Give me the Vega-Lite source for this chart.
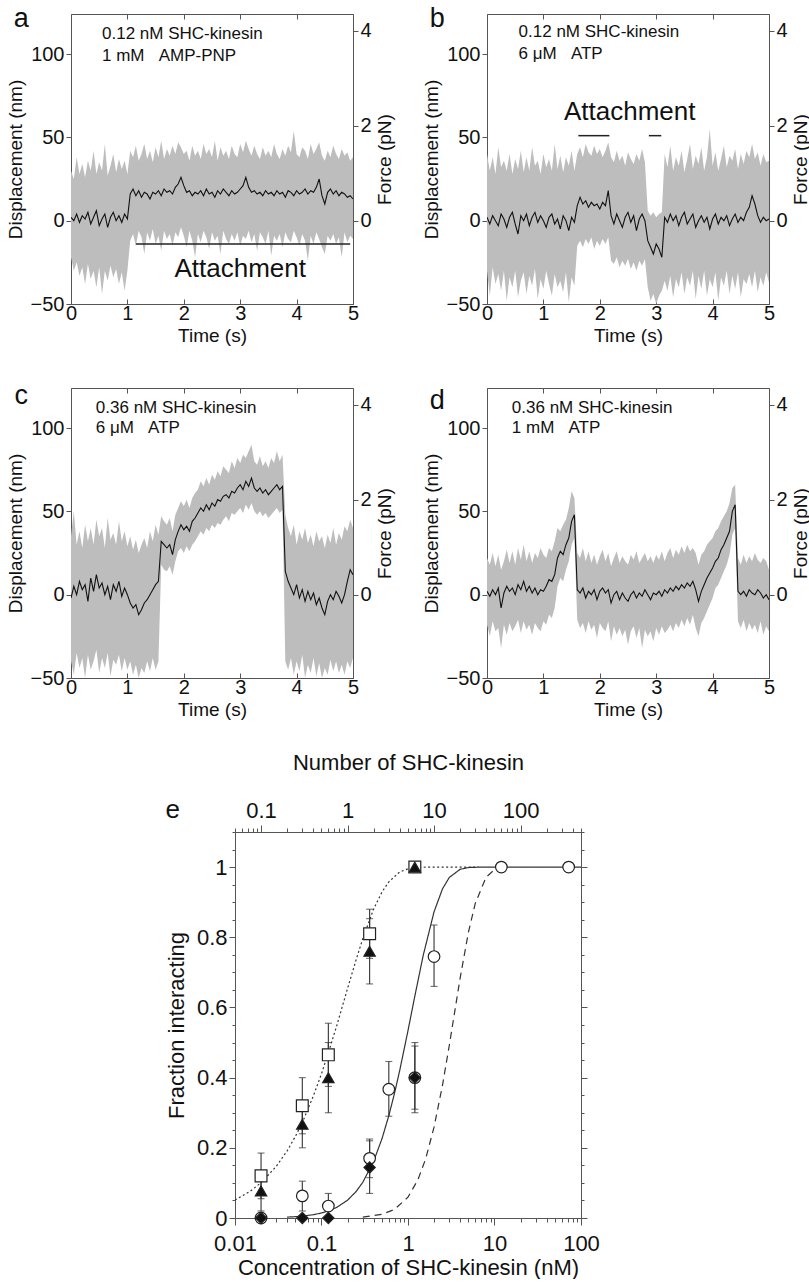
{
"$schema": "https://vega.github.io/schema/vega-lite/v6.json",
"padding": {"left": 5, "top": 4, "right": 0, "bottom": 0},
"background": "white",
"config": {
  "font": "Liberation Sans",
  "view": {"stroke": "#555", "strokeWidth": 1},
  "axis": {"grid": false, "domainColor": "#555", "tickColor": "#555", "labelColor": "#111", "titleColor": "#111", "titleFontWeight": "normal", "labelFlush": false, "labelOverlap": false},
  "text": {"color": "#111"}
},
"datasets": {
"a": [
{"t":0,"d":2,"lo":-22,"hi":30},{"t":0.05,"d":0,"lo":-30,"hi":25},{"t":0.1,"d":4,"lo":-25,"hi":38},{"t":0.15,"d":-1,"lo":-33,"hi":28},{"t":0.2,"d":3,"lo":-28,"hi":34},{"t":0.25,"d":1,"lo":-38,"hi":26},{"t":0.3,"d":5,"lo":-26,"hi":36},{"t":0.35,"d":-2,"lo":-35,"hi":30},{"t":0.4,"d":2,"lo":-30,"hi":42},{"t":0.45,"d":6,"lo":-40,"hi":28},
{"t":0.5,"d":-3,"lo":-28,"hi":35},{"t":0.55,"d":1,"lo":-44,"hi":30},{"t":0.6,"d":4,"lo":-30,"hi":46},{"t":0.65,"d":-4,"lo":-36,"hi":27},{"t":0.7,"d":2,"lo":-27,"hi":33},{"t":0.75,"d":5,"lo":-34,"hi":40},{"t":0.8,"d":0,"lo":-29,"hi":29},{"t":0.85,"d":3,"lo":-38,"hi":37},{"t":0.9,"d":-1,"lo":-31,"hi":31},{"t":0.95,"d":4,"lo":-42,"hi":36},
{"t":1,"d":1,"lo":-30,"hi":28},{"t":1.05,"d":16,"lo":-12,"hi":42},{"t":1.1,"d":19,"lo":-8,"hi":38},{"t":1.15,"d":15,"lo":-15,"hi":45},{"t":1.2,"d":18,"lo":-6,"hi":36},{"t":1.25,"d":14,"lo":-10,"hi":40},{"t":1.3,"d":17,"lo":-20,"hi":46},{"t":1.35,"d":16,"lo":-7,"hi":37},{"t":1.4,"d":13,"lo":-12,"hi":42},{"t":1.45,"d":17,"lo":-5,"hi":35},
{"t":1.5,"d":16,"lo":-14,"hi":44},{"t":1.55,"d":18,"lo":-9,"hi":38},{"t":1.6,"d":15,"lo":-18,"hi":48},{"t":1.65,"d":19,"lo":-6,"hi":37},{"t":1.7,"d":17,"lo":-11,"hi":43},{"t":1.75,"d":18,"lo":-8,"hi":39},{"t":1.8,"d":16,"lo":-15,"hi":45},{"t":1.85,"d":20,"lo":-7,"hi":40},{"t":1.9,"d":22,"lo":-10,"hi":47},{"t":1.95,"d":26,"lo":-4,"hi":44},
{"t":2,"d":21,"lo":-9,"hi":40},{"t":2.05,"d":17,"lo":-16,"hi":42},{"t":2.1,"d":18,"lo":-6,"hi":36},{"t":2.15,"d":15,"lo":-12,"hi":45},{"t":2.2,"d":17,"lo":-22,"hi":39},{"t":2.25,"d":16,"lo":-8,"hi":42},{"t":2.3,"d":18,"lo":-13,"hi":37},{"t":2.35,"d":15,"lo":-6,"hi":46},{"t":2.4,"d":19,"lo":-10,"hi":40},{"t":2.45,"d":16,"lo":-17,"hi":43},
{"t":2.5,"d":17,"lo":-7,"hi":38},{"t":2.55,"d":14,"lo":-12,"hi":48},{"t":2.6,"d":18,"lo":-9,"hi":36},{"t":2.65,"d":16,"lo":-20,"hi":44},{"t":2.7,"d":19,"lo":-6,"hi":39},{"t":2.75,"d":17,"lo":-11,"hi":42},{"t":2.8,"d":15,"lo":-14,"hi":37},{"t":2.85,"d":18,"lo":-8,"hi":45},{"t":2.9,"d":16,"lo":-12,"hi":40},{"t":2.95,"d":17,"lo":-7,"hi":38},
{"t":3,"d":19,"lo":-15,"hi":46},{"t":3.05,"d":21,"lo":-9,"hi":41},{"t":3.1,"d":26,"lo":-11,"hi":48},{"t":3.15,"d":20,"lo":-6,"hi":43},{"t":3.2,"d":17,"lo":-13,"hi":39},{"t":3.25,"d":18,"lo":-8,"hi":45},{"t":3.3,"d":16,"lo":-18,"hi":40},{"t":3.35,"d":17,"lo":-7,"hi":37},{"t":3.4,"d":15,"lo":-10,"hi":44},{"t":3.45,"d":18,"lo":-14,"hi":39},
{"t":3.5,"d":16,"lo":-6,"hi":42},{"t":3.55,"d":17,"lo":-21,"hi":38},{"t":3.6,"d":15,"lo":-9,"hi":46},{"t":3.65,"d":18,"lo":-12,"hi":40},{"t":3.7,"d":16,"lo":-8,"hi":37},{"t":3.75,"d":17,"lo":-16,"hi":43},{"t":3.8,"d":14,"lo":-7,"hi":39},{"t":3.85,"d":18,"lo":-11,"hi":45},{"t":3.9,"d":17,"lo":-13,"hi":41},{"t":3.95,"d":15,"lo":-6,"hi":54},
{"t":4,"d":18,"lo":-10,"hi":40},{"t":4.05,"d":16,"lo":-15,"hi":38},{"t":4.1,"d":17,"lo":-8,"hi":44},{"t":4.15,"d":19,"lo":-12,"hi":42},{"t":4.2,"d":16,"lo":-24,"hi":37},{"t":4.25,"d":18,"lo":-9,"hi":46},{"t":4.3,"d":17,"lo":-14,"hi":40},{"t":4.35,"d":20,"lo":-7,"hi":43},{"t":4.4,"d":25,"lo":-11,"hi":47},{"t":4.45,"d":15,"lo":-16,"hi":39},
{"t":4.5,"d":10,"lo":-20,"hi":36},{"t":4.55,"d":17,"lo":-9,"hi":42},{"t":4.6,"d":19,"lo":-12,"hi":38},{"t":4.65,"d":16,"lo":-8,"hi":45},{"t":4.7,"d":18,"lo":-14,"hi":40},{"t":4.75,"d":15,"lo":-10,"hi":37},{"t":4.8,"d":17,"lo":-22,"hi":43},{"t":4.85,"d":16,"lo":-7,"hi":39},{"t":4.9,"d":14,"lo":-13,"hi":41},{"t":4.95,"d":15,"lo":-9,"hi":36},
{"t":5,"d":13,"lo":-11,"hi":38}
],
"b": [
{"t":0,"d":2,"lo":-30,"hi":40},{"t":0.05,"d":-2,"lo":-45,"hi":30},{"t":0.1,"d":3,"lo":-28,"hi":38},{"t":0.15,"d":0,"lo":-38,"hi":28},{"t":0.2,"d":-3,"lo":-32,"hi":44},{"t":0.25,"d":4,"lo":-42,"hi":32},{"t":0.3,"d":1,"lo":-30,"hi":36},{"t":0.35,"d":-4,"lo":-48,"hi":30},{"t":0.4,"d":2,"lo":-34,"hi":40},{"t":0.45,"d":5,"lo":-40,"hi":28},
{"t":0.5,"d":-2,"lo":-30,"hi":37},{"t":0.55,"d":-8,"lo":-46,"hi":31},{"t":0.6,"d":3,"lo":-36,"hi":42},{"t":0.65,"d":0,"lo":-31,"hi":29},{"t":0.7,"d":4,"lo":-44,"hi":38},{"t":0.75,"d":-3,"lo":-33,"hi":30},{"t":0.8,"d":2,"lo":-39,"hi":44},{"t":0.85,"d":5,"lo":-29,"hi":33},{"t":0.9,"d":-1,"lo":-47,"hi":36},{"t":0.95,"d":3,"lo":-35,"hi":28},
{"t":1,"d":0,"lo":-41,"hi":40},{"t":1.05,"d":-4,"lo":-30,"hi":32},{"t":1.1,"d":2,"lo":-38,"hi":37},{"t":1.15,"d":4,"lo":-45,"hi":30},{"t":1.2,"d":-2,"lo":-32,"hi":46},{"t":1.25,"d":1,"lo":-40,"hi":31},{"t":1.3,"d":-5,"lo":-36,"hi":39},{"t":1.35,"d":3,"lo":-43,"hi":29},{"t":1.4,"d":0,"lo":-31,"hi":38},{"t":1.45,"d":-6,"lo":-49,"hi":33},
{"t":1.5,"d":2,"lo":-34,"hi":42},{"t":1.55,"d":-1,"lo":-39,"hi":30},{"t":1.6,"d":9,"lo":-15,"hi":40},{"t":1.65,"d":14,"lo":-12,"hi":44},{"t":1.7,"d":10,"lo":-16,"hi":38},{"t":1.75,"d":12,"lo":-11,"hi":46},{"t":1.8,"d":8,"lo":-14,"hi":41},{"t":1.85,"d":11,"lo":-10,"hi":39},{"t":1.9,"d":9,"lo":-17,"hi":45},{"t":1.95,"d":10,"lo":-12,"hi":40},
{"t":2,"d":7,"lo":-15,"hi":43},{"t":2.05,"d":11,"lo":-11,"hi":38},{"t":2.1,"d":9,"lo":-14,"hi":42},{"t":2.15,"d":18,"lo":-10,"hi":47},{"t":2.2,"d":3,"lo":-24,"hi":38},{"t":2.25,"d":-2,"lo":-26,"hi":35},{"t":2.3,"d":4,"lo":-22,"hi":42},{"t":2.35,"d":0,"lo":-28,"hi":36},{"t":2.4,"d":-4,"lo":-24,"hi":39},{"t":2.45,"d":2,"lo":-27,"hi":33},
{"t":2.5,"d":5,"lo":-23,"hi":41},{"t":2.55,"d":-1,"lo":-29,"hi":37},{"t":2.6,"d":3,"lo":-25,"hi":34},{"t":2.65,"d":-6,"lo":-30,"hi":40},{"t":2.7,"d":1,"lo":-24,"hi":36},{"t":2.75,"d":4,"lo":-27,"hi":43},{"t":2.8,"d":0,"lo":-23,"hi":35},{"t":2.85,"d":-12,"lo":-40,"hi":6},{"t":2.9,"d":-16,"lo":-48,"hi":3},{"t":2.95,"d":-20,"lo":-44,"hi":5},
{"t":3,"d":-14,"lo":-50,"hi":2},{"t":3.05,"d":-17,"lo":-45,"hi":4},{"t":3.1,"d":-22,"lo":-42,"hi":5},{"t":3.15,"d":2,"lo":-36,"hi":40},{"t":3.2,"d":-1,"lo":-42,"hi":32},{"t":3.25,"d":4,"lo":-33,"hi":45},{"t":3.3,"d":0,"lo":-46,"hi":30},{"t":3.35,"d":3,"lo":-35,"hi":38},{"t":3.4,"d":-3,"lo":-40,"hi":33},{"t":3.45,"d":2,"lo":-31,"hi":42},
{"t":3.5,"d":5,"lo":-44,"hi":29},{"t":3.55,"d":-2,"lo":-34,"hi":37},{"t":3.6,"d":1,"lo":-39,"hi":46},{"t":3.65,"d":4,"lo":-30,"hi":31},{"t":3.7,"d":-4,"lo":-47,"hi":39},{"t":3.75,"d":0,"lo":-33,"hi":34},{"t":3.8,"d":3,"lo":-41,"hi":44},{"t":3.85,"d":-1,"lo":-30,"hi":30},{"t":3.9,"d":2,"lo":-45,"hi":38},{"t":3.95,"d":-5,"lo":-35,"hi":55},
{"t":4,"d":1,"lo":-40,"hi":33},{"t":4.05,"d":4,"lo":-31,"hi":41},{"t":4.1,"d":-2,"lo":-48,"hi":30},{"t":4.15,"d":2,"lo":-34,"hi":37},{"t":4.2,"d":0,"lo":-39,"hi":45},{"t":4.25,"d":3,"lo":-30,"hi":32},{"t":4.3,"d":-3,"lo":-44,"hi":39},{"t":4.35,"d":1,"lo":-33,"hi":36},{"t":4.4,"d":4,"lo":-41,"hi":43},{"t":4.45,"d":-1,"lo":-31,"hi":31},
{"t":4.5,"d":2,"lo":-46,"hi":40},{"t":4.55,"d":0,"lo":-35,"hi":34},{"t":4.6,"d":5,"lo":-38,"hi":42},{"t":4.65,"d":8,"lo":-32,"hi":38},{"t":4.7,"d":15,"lo":-40,"hi":46},{"t":4.75,"d":10,"lo":-30,"hi":37},{"t":4.8,"d":3,"lo":-43,"hi":41},{"t":4.85,"d":-1,"lo":-34,"hi":33},{"t":4.9,"d":2,"lo":-39,"hi":40},{"t":4.95,"d":0,"lo":-31,"hi":35},
{"t":5,"d":1,"lo":-37,"hi":36}
],
"c": [
{"t":0,"d":-2,"lo":-40,"hi":35},{"t":0.05,"d":5,"lo":-48,"hi":50},{"t":0.1,"d":0,"lo":-35,"hi":30},{"t":0.15,"d":8,"lo":-44,"hi":38},{"t":0.2,"d":3,"lo":-38,"hi":28},{"t":0.25,"d":6,"lo":-50,"hi":42},{"t":0.3,"d":-4,"lo":-36,"hi":32},{"t":0.35,"d":10,"lo":-45,"hi":40},{"t":0.4,"d":2,"lo":-40,"hi":30},{"t":0.45,"d":12,"lo":-33,"hi":45},
{"t":0.5,"d":4,"lo":-47,"hi":35},{"t":0.55,"d":7,"lo":-38,"hi":40},{"t":0.6,"d":0,"lo":-44,"hi":28},{"t":0.65,"d":5,"lo":-35,"hi":46},{"t":0.7,"d":-3,"lo":-49,"hi":33},{"t":0.75,"d":6,"lo":-39,"hi":37},{"t":0.8,"d":2,"lo":-42,"hi":30},{"t":0.85,"d":8,"lo":-36,"hi":44},{"t":0.9,"d":-1,"lo":-46,"hi":32},{"t":0.95,"d":4,"lo":-38,"hi":38},
{"t":1,"d":0,"lo":-45,"hi":29},{"t":1.05,"d":-5,"lo":-40,"hi":35},{"t":1.1,"d":-8,"lo":-48,"hi":27},{"t":1.15,"d":-6,"lo":-42,"hi":33},{"t":1.2,"d":-12,"lo":-50,"hi":25},{"t":1.25,"d":-9,"lo":-44,"hi":30},{"t":1.3,"d":-5,"lo":-47,"hi":34},{"t":1.35,"d":-3,"lo":-40,"hi":28},{"t":1.4,"d":0,"lo":-46,"hi":38},{"t":1.45,"d":3,"lo":-38,"hi":32},
{"t":1.5,"d":6,"lo":-45,"hi":42},{"t":1.55,"d":8,"lo":-40,"hi":36},{"t":1.6,"d":32,"lo":18,"hi":47},{"t":1.65,"d":30,"lo":15,"hi":44},{"t":1.7,"d":28,"lo":14,"hi":42},{"t":1.75,"d":30,"lo":17,"hi":46},{"t":1.8,"d":24,"lo":12,"hi":38},{"t":1.85,"d":33,"lo":20,"hi":48},{"t":1.9,"d":38,"lo":26,"hi":52},{"t":1.95,"d":42,"lo":28,"hi":56},
{"t":2,"d":39,"lo":25,"hi":53},{"t":2.05,"d":41,"lo":29,"hi":57},{"t":2.1,"d":38,"lo":26,"hi":52},{"t":2.15,"d":44,"lo":30,"hi":58},{"t":2.2,"d":46,"lo":32,"hi":61},{"t":2.25,"d":49,"lo":35,"hi":63},{"t":2.3,"d":52,"lo":38,"hi":68},{"t":2.35,"d":50,"lo":36,"hi":65},{"t":2.4,"d":54,"lo":40,"hi":70},{"t":2.45,"d":51,"lo":38,"hi":66},
{"t":2.5,"d":55,"lo":42,"hi":72},{"t":2.55,"d":53,"lo":40,"hi":69},{"t":2.6,"d":57,"lo":43,"hi":74},{"t":2.65,"d":56,"lo":42,"hi":71},{"t":2.7,"d":59,"lo":45,"hi":77},{"t":2.75,"d":60,"lo":47,"hi":75},{"t":2.8,"d":58,"lo":44,"hi":73},{"t":2.85,"d":62,"lo":49,"hi":80},{"t":2.9,"d":61,"lo":48,"hi":76},{"t":2.95,"d":64,"lo":50,"hi":82},
{"t":3,"d":66,"lo":52,"hi":79},{"t":3.05,"d":63,"lo":49,"hi":84},{"t":3.1,"d":68,"lo":54,"hi":82},{"t":3.15,"d":65,"lo":51,"hi":86},{"t":3.2,"d":70,"lo":55,"hi":90},{"t":3.25,"d":64,"lo":50,"hi":80},{"t":3.3,"d":62,"lo":48,"hi":78},{"t":3.35,"d":64,"lo":50,"hi":83},{"t":3.4,"d":61,"lo":47,"hi":77},{"t":3.45,"d":63,"lo":49,"hi":80},
{"t":3.5,"d":60,"lo":46,"hi":76},{"t":3.55,"d":62,"lo":48,"hi":82},{"t":3.6,"d":64,"lo":50,"hi":79},{"t":3.65,"d":66,"lo":52,"hi":86},{"t":3.7,"d":63,"lo":49,"hi":80},{"t":3.75,"d":65,"lo":51,"hi":84},{"t":3.8,"d":14,"lo":-40,"hi":48},{"t":3.85,"d":8,"lo":-45,"hi":40},{"t":3.9,"d":4,"lo":-38,"hi":35},{"t":3.95,"d":0,"lo":-48,"hi":42},
{"t":4,"d":6,"lo":-40,"hi":30},{"t":4.05,"d":-2,"lo":-46,"hi":38},{"t":4.1,"d":3,"lo":-36,"hi":33},{"t":4.15,"d":-4,"lo":-50,"hi":40},{"t":4.2,"d":2,"lo":-42,"hi":31},{"t":4.25,"d":-3,"lo":-47,"hi":36},{"t":4.3,"d":1,"lo":-38,"hi":29},{"t":4.35,"d":-6,"lo":-49,"hi":38},{"t":4.4,"d":-2,"lo":-41,"hi":32},{"t":4.45,"d":-8,"lo":-50,"hi":35},
{"t":4.5,"d":-12,"lo":-44,"hi":28},{"t":4.55,"d":-4,"lo":-48,"hi":36},{"t":4.6,"d":0,"lo":-39,"hi":31},{"t":4.65,"d":-3,"lo":-46,"hi":40},{"t":4.7,"d":2,"lo":-40,"hi":30},{"t":4.75,"d":-1,"lo":-47,"hi":37},{"t":4.8,"d":-5,"lo":-42,"hi":33},{"t":4.85,"d":0,"lo":-48,"hi":41},{"t":4.9,"d":8,"lo":-40,"hi":38},{"t":4.95,"d":15,"lo":-44,"hi":45},
{"t":5,"d":12,"lo":-38,"hi":40}
],
"d": [
{"t":0,"d":2,"lo":-18,"hi":22},{"t":0.05,"d":-1,"lo":-25,"hi":18},{"t":0.1,"d":3,"lo":-16,"hi":25},{"t":0.15,"d":0,"lo":-22,"hi":17},{"t":0.2,"d":4,"lo":-20,"hi":24},{"t":0.25,"d":-8,"lo":-32,"hi":15},{"t":0.3,"d":1,"lo":-18,"hi":20},{"t":0.35,"d":5,"lo":-24,"hi":27},{"t":0.4,"d":2,"lo":-17,"hi":19},{"t":0.45,"d":4,"lo":-22,"hi":26},
{"t":0.5,"d":0,"lo":-19,"hi":18},{"t":0.55,"d":6,"lo":-15,"hi":28},{"t":0.6,"d":3,"lo":-23,"hi":21},{"t":0.65,"d":8,"lo":-16,"hi":30},{"t":0.7,"d":2,"lo":-21,"hi":20},{"t":0.75,"d":5,"lo":-18,"hi":26},{"t":0.8,"d":1,"lo":-24,"hi":19},{"t":0.85,"d":4,"lo":-17,"hi":25},{"t":0.9,"d":0,"lo":-20,"hi":22},{"t":0.95,"d":3,"lo":-22,"hi":28},
{"t":1,"d":2,"lo":-16,"hi":24},{"t":1.05,"d":5,"lo":-18,"hi":22},{"t":1.1,"d":9,"lo":-12,"hi":28},{"t":1.15,"d":8,"lo":-14,"hi":26},{"t":1.2,"d":12,"lo":-8,"hi":32},{"t":1.25,"d":22,"lo":5,"hi":40},{"t":1.3,"d":26,"lo":10,"hi":38},{"t":1.35,"d":24,"lo":8,"hi":42},{"t":1.4,"d":30,"lo":15,"hi":45},{"t":1.45,"d":34,"lo":20,"hi":52},
{"t":1.5,"d":44,"lo":30,"hi":62},{"t":1.55,"d":48,"lo":34,"hi":58},{"t":1.6,"d":3,"lo":-15,"hi":25},{"t":1.65,"d":1,"lo":-20,"hi":22},{"t":1.7,"d":4,"lo":-17,"hi":28},{"t":1.75,"d":-2,"lo":-23,"hi":20},{"t":1.8,"d":2,"lo":-16,"hi":26},{"t":1.85,"d":0,"lo":-21,"hi":19},{"t":1.9,"d":3,"lo":-18,"hi":24},{"t":1.95,"d":-3,"lo":-26,"hi":18},
{"t":2,"d":2,"lo":-17,"hi":23},{"t":2.05,"d":4,"lo":-20,"hi":27},{"t":2.1,"d":1,"lo":-22,"hi":20},{"t":2.15,"d":3,"lo":-16,"hi":25},{"t":2.2,"d":-5,"lo":-28,"hi":17},{"t":2.25,"d":0,"lo":-19,"hi":22},{"t":2.3,"d":2,"lo":-24,"hi":26},{"t":2.35,"d":-3,"lo":-20,"hi":19},{"t":2.4,"d":1,"lo":-25,"hi":23},{"t":2.45,"d":-2,"lo":-21,"hi":20},
{"t":2.5,"d":-4,"lo":-30,"hi":18},{"t":2.55,"d":0,"lo":-22,"hi":24},{"t":2.6,"d":2,"lo":-19,"hi":21},{"t":2.65,"d":-2,"lo":-26,"hi":26},{"t":2.7,"d":1,"lo":-20,"hi":19},{"t":2.75,"d":-1,"lo":-32,"hi":22},{"t":2.8,"d":3,"lo":-21,"hi":25},{"t":2.85,"d":0,"lo":-25,"hi":20},{"t":2.9,"d":-3,"lo":-22,"hi":23},{"t":2.95,"d":1,"lo":-28,"hi":19},
{"t":3,"d":0,"lo":-20,"hi":24},{"t":3.05,"d":2,"lo":-24,"hi":21},{"t":3.1,"d":-1,"lo":-19,"hi":26},{"t":3.15,"d":3,"lo":-23,"hi":20},{"t":3.2,"d":1,"lo":-21,"hi":25},{"t":3.25,"d":4,"lo":-18,"hi":28},{"t":3.3,"d":2,"lo":-22,"hi":22},{"t":3.35,"d":5,"lo":-17,"hi":27},{"t":3.4,"d":3,"lo":-20,"hi":24},{"t":3.45,"d":6,"lo":-15,"hi":29},
{"t":3.5,"d":4,"lo":-19,"hi":25},{"t":3.55,"d":7,"lo":-14,"hi":30},{"t":3.6,"d":5,"lo":-18,"hi":26},{"t":3.65,"d":8,"lo":-12,"hi":28},{"t":3.7,"d":3,"lo":-20,"hi":25},{"t":3.75,"d":-4,"lo":-25,"hi":18},{"t":3.8,"d":2,"lo":-17,"hi":24},{"t":3.85,"d":6,"lo":-14,"hi":26},{"t":3.9,"d":10,"lo":-10,"hi":30},{"t":3.95,"d":13,"lo":-6,"hi":32},
{"t":4,"d":16,"lo":-2,"hi":34},{"t":4.05,"d":20,"lo":4,"hi":38},{"t":4.1,"d":22,"lo":6,"hi":40},{"t":4.15,"d":27,"lo":10,"hi":44},{"t":4.2,"d":30,"lo":14,"hi":47},{"t":4.25,"d":34,"lo":18,"hi":50},{"t":4.3,"d":38,"lo":24,"hi":55},{"t":4.35,"d":50,"lo":36,"hi":64},{"t":4.4,"d":54,"lo":40,"hi":66},{"t":4.45,"d":2,"lo":-16,"hi":22},
{"t":4.5,"d":0,"lo":-20,"hi":18},{"t":4.55,"d":2,"lo":-15,"hi":24},{"t":4.6,"d":-1,"lo":-22,"hi":19},{"t":4.65,"d":3,"lo":-17,"hi":23},{"t":4.7,"d":1,"lo":-21,"hi":20},{"t":4.75,"d":0,"lo":-18,"hi":25},{"t":4.8,"d":3,"lo":-23,"hi":21},{"t":4.85,"d":1,"lo":-16,"hi":19},{"t":4.9,"d":-2,"lo":-24,"hi":22},{"t":4.95,"d":0,"lo":-19,"hi":20},
{"t":5,"d":-3,"lo":-22,"hi":15}
],
"e_pts": [
{"c":0.02,"v":0.12,"lo":0.055,"hi":0.185,"s":"sq"},{"c":0.06,"v":0.32,"lo":0.24,"hi":0.40,"s":"sq"},{"c":0.12,"v":0.465,"lo":0.375,"hi":0.555,"s":"sq"},{"c":0.36,"v":0.81,"lo":0.74,"hi":0.88,"s":"sq"},{"c":1.2,"v":1.0,"s":"sq"},
{"c":0.02,"v":0,"s":"ci"},{"c":0.06,"v":0.063,"lo":0.02,"hi":0.105,"s":"ci"},{"c":0.12,"v":0.034,"lo":0.0,"hi":0.07,"s":"ci"},{"c":0.36,"v":0.17,"lo":0.115,"hi":0.225,"s":"ci"},{"c":0.6,"v":0.367,"lo":0.29,"hi":0.446,"s":"ci"},{"c":1.2,"v":0.40,"lo":0.30,"hi":0.50,"s":"ci"},{"c":2,"v":0.745,"lo":0.66,"hi":0.835,"s":"ci"},{"c":12,"v":1.0,"s":"ci"},{"c":72,"v":1.0,"s":"ci"},
{"c":0.02,"v":0.077,"lo":0.02,"hi":0.135,"s":"tr"},{"c":0.06,"v":0.267,"lo":0.2,"hi":0.33,"s":"tr"},{"c":0.12,"v":0.40,"lo":0.30,"hi":0.50,"s":"tr"},{"c":0.36,"v":0.76,"lo":0.667,"hi":0.853,"s":"tr"},{"c":1.2,"v":1.0,"s":"tr"},
{"c":0.02,"v":0,"s":"di"},{"c":0.06,"v":0,"s":"di"},{"c":0.12,"v":0,"s":"di"},{"c":0.36,"v":0.144,"lo":0.07,"hi":0.22,"s":"di"},{"c":1.2,"v":0.40,"lo":0.31,"hi":0.49,"s":"di"}
],
"e_curves": [
{"c":0.01,"v":0.0516,"g":"dot"},{"c":0.015,"v":0.0764,"g":"dot"},{"c":0.02,"v":0.1006,"g":"dot"},{"c":0.03,"v":0.147,"g":"dot"},{"c":0.04,"v":0.191,"g":"dot"},{"c":0.05,"v":0.233,"g":"dot"},{"c":0.06,"v":0.272,"g":"dot"},{"c":0.08,"v":0.346,"g":"dot"},{"c":0.1,"v":0.411,"g":"dot"},{"c":0.12,"v":0.471,"g":"dot"},{"c":0.15,"v":0.548,"g":"dot"},{"c":0.2,"v":0.654,"g":"dot"},{"c":0.25,"v":0.734,"g":"dot"},{"c":0.3,"v":0.796,"g":"dot"},{"c":0.4,"v":0.88,"g":"dot"},{"c":0.5,"v":0.929,"g":"dot"},{"c":0.6,"v":0.958,"g":"dot"},{"c":0.8,"v":0.986,"g":"dot"},{"c":1,"v":0.995,"g":"dot"},{"c":1.2,"v":0.998,"g":"dot"},{"c":1.5,"v":0.9996,"g":"dot"},{"c":2,"v":1,"g":"dot"},{"c":6.5,"v":1,"g":"dot"},
{"c":0.04,"v":0.0025,"g":"solid"},{"c":0.05,"v":0.0038,"g":"solid"},{"c":0.06,"v":0.0053,"g":"solid"},{"c":0.08,"v":0.0093,"g":"solid"},{"c":0.1,"v":0.0142,"g":"solid"},{"c":0.12,"v":0.02,"g":"solid"},{"c":0.15,"v":0.0302,"g":"solid"},{"c":0.2,"v":0.0508,"g":"solid"},{"c":0.25,"v":0.0748,"g":"solid"},{"c":0.3,"v":0.1016,"g":"solid"},{"c":0.4,"v":0.1614,"g":"solid"},{"c":0.5,"v":0.2257,"g":"solid"},{"c":0.6,"v":0.2915,"g":"solid"},{"c":0.7,"v":0.3565,"g":"solid"},{"c":0.8,"v":0.4192,"g":"solid"},{"c":1,"v":0.5341,"g":"solid"},{"c":1.2,"v":0.6326,"g":"solid"},{"c":1.5,"v":0.7486,"g":"solid"},{"c":2,"v":0.8724,"g":"solid"},{"c":2.5,"v":0.9376,"g":"solid"},{"c":3,"v":0.9704,"g":"solid"},{"c":4,"v":0.9937,"g":"solid"},{"c":5,"v":0.9987,"g":"solid"},{"c":7,"v":1,"g":"solid"},{"c":100,"v":1,"g":"solid"},
{"c":0.3,"v":0.0025,"g":"dash"},{"c":0.5,"v":0.0103,"g":"dash"},{"c":0.7,"v":0.0247,"g":"dash"},{"c":1,"v":0.0595,"g":"dash"},{"c":1.3,"v":0.1087,"g":"dash"},{"c":1.6,"v":0.1686,"g":"dash"},{"c":2,"v":0.2589,"g":"dash"},{"c":2.5,"v":0.3773,"g":"dash"},{"c":3,"v":0.4916,"g":"dash"},{"c":3.5,"v":0.594,"g":"dash"},{"c":4,"v":0.6828,"g":"dash"},{"c":5,"v":0.8148,"g":"dash"},{"c":6,"v":0.897,"g":"dash"},{"c":8,"v":0.9713,"g":"dash"},{"c":10,"v":0.9927,"g":"dash"},{"c":12,"v":0.9983,"g":"dash"}
]
},
"vconcat": [
{
"vconcat": [
{"hconcat": [
{
"width": 282, "height": 290,
"data": {"name": "a"},
"layer": [
{"mark": {"type": "area", "color": "#bdbdbd", "clip": true},
 "encoding": {
  "x": {"field": "t", "type": "quantitative", "scale": {"domain": [0, 5], "nice": false}, "axis": {"title": "Time (s)", "values": [0,1,2,3,4,5], "format": "d", "labelFontSize": 20, "titleFontSize": 19, "tickSize": -5, "labelPadding": 4, "titlePadding": 3}},
  "y": {"field": "lo", "type": "quantitative", "scale": {"domain": [-50, 124], "nice": false, "zero": false}, "axis": {"title": "Displacement (nm)", "values": [-50,0,50,100], "labelFontSize": 20, "titleFontSize": 19, "tickSize": 5, "labelPadding": 2, "titlePadding": 5}},
  "y2": {"field": "hi"}}},
{"mark": {"type": "line", "color": "#111", "strokeWidth": 1.1, "clip": true},
 "encoding": {
  "x": {"field": "t", "type": "quantitative", "axis": {"orient": "top", "labels": false, "title": null, "values": [1,2,3,4], "tickSize": -5, "domain": false}},
  "y": {"field": "d", "type": "quantitative", "axis": {"orient": "right", "title": "Force (pN)", "values": [0, 57, 114], "labelExpr": "format(datum.value/28.5, '.0f')", "labelFontSize": 20, "titleFontSize": 19, "tickSize": 5, "labelPadding": 2, "titlePadding": 4, "titleAngle": -90, "titleBaseline": "top"}}}},
{"data": {"values": [{"t": 0.55, "d": 112, "txt": "0.12 nM SHC-kinesin"}, {"t": 0.55, "d": 99, "txt": "1 mM\u00a0\u00a0\u00a0AMP-PNP"}]},
 "mark": {"type": "text", "align": "left", "baseline": "middle", "fontSize": 17},
 "encoding": {"x": {"field": "t", "type": "quantitative", "axis": null}, "y": {"field": "d", "type": "quantitative", "axis": null}, "text": {"field": "txt"}}},
{"data": {"values": [{"t": -0.88, "d": 121, "txt": "a"}]},
 "mark": {"type": "text", "align": "center", "baseline": "middle", "fontSize": 27},
 "encoding": {"x": {"field": "t", "type": "quantitative", "axis": null}, "y": {"field": "d", "type": "quantitative", "axis": null}, "text": {"field": "txt"}}},
{"data": {"values": [{"t": 3.0, "d": -29, "txt": "Attachment"}]},
 "mark": {"type": "text", "align": "center", "baseline": "middle", "fontSize": 26},
 "encoding": {"x": {"field": "t", "type": "quantitative", "axis": null}, "y": {"field": "d", "type": "quantitative", "axis": null}, "text": {"field": "txt"}}},
{"data": {"values": [{"t": 1.15, "t2": 4.95, "d": -14}]},
 "mark": {"type": "rule", "color": "#222", "strokeWidth": 1.5},
 "encoding": {"x": {"field": "t", "type": "quantitative", "axis": null}, "x2": {"field": "t2"}, "y": {"field": "d", "type": "quantitative", "axis": null}}}
],
"resolve": {"axis": {"x": "independent", "y": "independent"}}
},
{
"width": 282, "height": 290,
"data": {"name": "b"},
"layer": [
{"mark": {"type": "area", "color": "#bdbdbd", "clip": true},
 "encoding": {
  "x": {"field": "t", "type": "quantitative", "scale": {"domain": [0, 5], "nice": false}, "axis": {"title": "Time (s)", "values": [0,1,2,3,4,5], "format": "d", "labelFontSize": 20, "titleFontSize": 19, "tickSize": -5, "labelPadding": 4, "titlePadding": 3}},
  "y": {"field": "lo", "type": "quantitative", "scale": {"domain": [-50, 124], "nice": false, "zero": false}, "axis": {"title": "Displacement (nm)", "values": [-50,0,50,100], "labelFontSize": 20, "titleFontSize": 19, "tickSize": 5, "labelPadding": 2, "titlePadding": 5}},
  "y2": {"field": "hi"}}},
{"mark": {"type": "line", "color": "#111", "strokeWidth": 1.1, "clip": true},
 "encoding": {
  "x": {"field": "t", "type": "quantitative", "axis": {"orient": "top", "labels": false, "title": null, "values": [1,2,3,4], "tickSize": -5, "domain": false}},
  "y": {"field": "d", "type": "quantitative", "axis": {"orient": "right", "title": "Force (pN)", "values": [0, 57, 114], "labelExpr": "format(datum.value/28.5, '.0f')", "labelFontSize": 20, "titleFontSize": 19, "tickSize": 5, "labelPadding": 2, "titlePadding": 4, "titleAngle": -90, "titleBaseline": "top"}}}},
{"data": {"values": [{"t": 0.56, "d": 113, "txt": "0.12 nM SHC-kinesin"}, {"t": 0.56, "d": 100, "txt": "6 \u03bcM\u00a0\u00a0\u00a0ATP"}]},
 "mark": {"type": "text", "align": "left", "baseline": "middle", "fontSize": 17},
 "encoding": {"x": {"field": "t", "type": "quantitative", "axis": null}, "y": {"field": "d", "type": "quantitative", "axis": null}, "text": {"field": "txt"}}},
{"data": {"values": [{"t": -0.88, "d": 121, "txt": "b"}]},
 "mark": {"type": "text", "align": "center", "baseline": "middle", "fontSize": 27},
 "encoding": {"x": {"field": "t", "type": "quantitative", "axis": null}, "y": {"field": "d", "type": "quantitative", "axis": null}, "text": {"field": "txt"}}},
{"data": {"values": [{"t": 2.53, "d": 65, "txt": "Attachment"}]},
 "mark": {"type": "text", "align": "center", "baseline": "middle", "fontSize": 26},
 "encoding": {"x": {"field": "t", "type": "quantitative", "axis": null}, "y": {"field": "d", "type": "quantitative", "axis": null}, "text": {"field": "txt"}}},
{"data": {"values": [{"t": 1.62, "t2": 2.17, "d": 51}, {"t": 2.87, "t2": 3.09, "d": 51}]},
 "mark": {"type": "rule", "color": "#222", "strokeWidth": 1.5},
 "encoding": {"x": {"field": "t", "type": "quantitative", "axis": null}, "x2": {"field": "t2"}, "y": {"field": "d", "type": "quantitative", "axis": null}}}
],
"resolve": {"axis": {"x": "independent", "y": "independent"}}
}
], "spacing": 26},
{"hconcat": [
{
"width": 282, "height": 290,
"data": {"name": "c"},
"layer": [
{"mark": {"type": "area", "color": "#bdbdbd", "clip": true},
 "encoding": {
  "x": {"field": "t", "type": "quantitative", "scale": {"domain": [0, 5], "nice": false}, "axis": {"title": "Time (s)", "values": [0,1,2,3,4,5], "format": "d", "labelFontSize": 20, "titleFontSize": 19, "tickSize": -5, "labelPadding": 4, "titlePadding": 3}},
  "y": {"field": "lo", "type": "quantitative", "scale": {"domain": [-50, 124], "nice": false, "zero": false}, "axis": {"title": "Displacement (nm)", "values": [-50,0,50,100], "labelFontSize": 20, "titleFontSize": 19, "tickSize": 5, "labelPadding": 2, "titlePadding": 5}},
  "y2": {"field": "hi"}}},
{"mark": {"type": "line", "color": "#111", "strokeWidth": 1.1, "clip": true},
 "encoding": {
  "x": {"field": "t", "type": "quantitative", "axis": {"orient": "top", "labels": false, "title": null, "values": [1,2,3,4], "tickSize": -5, "domain": false}},
  "y": {"field": "d", "type": "quantitative", "axis": {"orient": "right", "title": "Force (pN)", "values": [0, 57, 114], "labelExpr": "format(datum.value/28.5, '.0f')", "labelFontSize": 20, "titleFontSize": 19, "tickSize": 5, "labelPadding": 2, "titlePadding": 4, "titleAngle": -90, "titleBaseline": "top"}}}},
{"data": {"values": [{"t": 0.44, "d": 112, "txt": "0.36 nM SHC-kinesin"}, {"t": 0.44, "d": 100, "txt": "6 \u03bcM\u00a0\u00a0\u00a0ATP"}]},
 "mark": {"type": "text", "align": "left", "baseline": "middle", "fontSize": 17},
 "encoding": {"x": {"field": "t", "type": "quantitative", "axis": null}, "y": {"field": "d", "type": "quantitative", "axis": null}, "text": {"field": "txt"}}},
{"data": {"values": [{"t": -0.88, "d": 119, "txt": "c"}]},
 "mark": {"type": "text", "align": "center", "baseline": "middle", "fontSize": 27},
 "encoding": {"x": {"field": "t", "type": "quantitative", "axis": null}, "y": {"field": "d", "type": "quantitative", "axis": null}, "text": {"field": "txt"}}}
],
"resolve": {"axis": {"x": "independent", "y": "independent"}}
},
{
"width": 282, "height": 290,
"data": {"name": "d"},
"layer": [
{"mark": {"type": "area", "color": "#bdbdbd", "clip": true},
 "encoding": {
  "x": {"field": "t", "type": "quantitative", "scale": {"domain": [0, 5], "nice": false}, "axis": {"title": "Time (s)", "values": [0,1,2,3,4,5], "format": "d", "labelFontSize": 20, "titleFontSize": 19, "tickSize": -5, "labelPadding": 4, "titlePadding": 3}},
  "y": {"field": "lo", "type": "quantitative", "scale": {"domain": [-50, 124], "nice": false, "zero": false}, "axis": {"title": "Displacement (nm)", "values": [-50,0,50,100], "labelFontSize": 20, "titleFontSize": 19, "tickSize": 5, "labelPadding": 2, "titlePadding": 5}},
  "y2": {"field": "hi"}}},
{"mark": {"type": "line", "color": "#111", "strokeWidth": 1.1, "clip": true},
 "encoding": {
  "x": {"field": "t", "type": "quantitative", "axis": {"orient": "top", "labels": false, "title": null, "values": [1,2,3,4], "tickSize": -5, "domain": false}},
  "y": {"field": "d", "type": "quantitative", "axis": {"orient": "right", "title": "Force (pN)", "values": [0, 57, 114], "labelExpr": "format(datum.value/28.5, '.0f')", "labelFontSize": 20, "titleFontSize": 19, "tickSize": 5, "labelPadding": 2, "titlePadding": 4, "titleAngle": -90, "titleBaseline": "top"}}}},
{"data": {"values": [{"t": 0.44, "d": 112, "txt": "0.36 nM SHC-kinesin"}, {"t": 0.44, "d": 100, "txt": "1 mM\u00a0\u00a0\u00a0ATP"}]},
 "mark": {"type": "text", "align": "left", "baseline": "middle", "fontSize": 17},
 "encoding": {"x": {"field": "t", "type": "quantitative", "axis": null}, "y": {"field": "d", "type": "quantitative", "axis": null}, "text": {"field": "txt"}}},
{"data": {"values": [{"t": -0.88, "d": 116, "txt": "d"}]},
 "mark": {"type": "text", "align": "center", "baseline": "middle", "fontSize": 27},
 "encoding": {"x": {"field": "t", "type": "quantitative", "axis": null}, "y": {"field": "d", "type": "quantitative", "axis": null}, "text": {"field": "txt"}}}
],
"resolve": {"axis": {"x": "independent", "y": "independent"}}
}
], "spacing": 26}
],
"spacing": 35
},
{"hconcat": [
{"width": 93, "height": 10, "data": {"values": [{"k": 1}]}, "mark": {"type": "point", "opacity": 0}, "encoding": {}, "view": {"stroke": null}},
{
"width": 346, "height": 386,
"layer": [
{"data": {"name": "e_curves"},
 "mark": {"type": "line", "color": "#333", "strokeWidth": 1.2, "clip": true},
 "encoding": {
  "x": {"field": "c", "type": "quantitative", "scale": {"type": "log", "domain": [0.01, 100], "nice": false}, "axis": {"title": "Concentration of SHC-kinesin (nM)", "values": [0.01,0.02,0.03,0.04,0.05,0.06,0.07,0.08,0.09,0.1,0.2,0.3,0.4,0.5,0.6,0.7,0.8,0.9,1,2,3,4,5,6,7,8,9,10,20,30,40,50,60,70,80,90,100], "labelExpr": "datum.value==0.01?'0.01':datum.value==0.1?'0.1':datum.value==1?'1':datum.value==10?'10':datum.value==100?'100':''", "tickSize": {"condition": {"test": "indexof([0.01,0.1,1,10,100], datum.value) >= 0", "value": 7}, "value": 4}, "labelFontSize": 22, "titleFontSize": 22, "labelPadding": 8, "titlePadding": 3}},
  "y": {"field": "v", "type": "quantitative", "scale": {"domain": [0, 1.1], "nice": false, "zero": false}, "axis": {"title": "Fraction interacting", "values": [0,0.05,0.1,0.15,0.2,0.25,0.3,0.35,0.4,0.45,0.5,0.55,0.6,0.65,0.7,0.75,0.8,0.85,0.9,0.95,1,1.05,1.1], "labelExpr": "abs(datum.value*5-round(datum.value*5))<0.001 ? format(datum.value, '~g') : ''", "tickSize": {"condition": {"test": "abs(datum.value*5-round(datum.value*5))<0.001", "value": 6}, "value": 3}, "labelFontSize": 22, "titleFontSize": 22, "labelPadding": 2, "titlePadding": 8}},
  "strokeDash": {"field": "g", "type": "nominal", "scale": {"domain": ["dot", "solid", "dash"], "range": [[2, 2.5], [1, 0], [7, 5]]}, "legend": null}}},
{"data": {"name": "e_pts"},
 "transform": [{"filter": "isValid(datum.lo)"}],
 "mark": {"type": "errorbar", "ticks": true, "color": "#333", "thickness": 1.1, "size": 7},
 "encoding": {
  "x": {"field": "c", "type": "quantitative", "axis": null},
  "y": {"field": "lo", "type": "quantitative", "axis": null},
  "y2": {"field": "hi"}}},
{"data": {"name": "e_pts"},
 "mark": {"type": "point", "filled": true, "stroke": "#222", "strokeWidth": 1.2, "opacity": 1},
 "encoding": {
  "x": {"field": "c", "type": "quantitative", "axis": null},
  "y": {"field": "v", "type": "quantitative", "axis": null},
  "shape": {"field": "s", "type": "nominal", "scale": {"domain": ["sq", "ci", "tr", "di"], "range": ["square", "circle", "triangle-up", "diamond"]}, "legend": null},
  "fill": {"field": "s", "type": "nominal", "scale": {"domain": ["sq", "ci", "tr", "di"], "range": ["#ffffff", "#ffffff", "#111111", "#111111"]}, "legend": null},
  "size": {"field": "s", "type": "nominal", "scale": {"domain": ["sq", "ci", "tr", "di"], "range": [140, 125, 110, 70]}, "legend": null}}},
{"data": {"values": [{"c": 0.01, "v": 0}, {"c": 100, "v": 1.1}]},
 "mark": {"type": "point", "opacity": 0},
 "encoding": {
  "x": {"field": "c", "type": "quantitative", "axis": {"orient": "top", "title": "Number of SHC-kinesin", "values": [0.01,0.012,0.014,0.016,0.018,0.02,0.04,0.06,0.08,0.1,0.12,0.14,0.16,0.18,0.2,0.4,0.6,0.8,1,1.2,1.4,1.6,1.8,2,4,6,8,10,12,14,16,18,20,40,60,80,100], "labelExpr": "datum.value==0.02?'0.1':datum.value==0.2?'1':datum.value==2?'10':datum.value==20?'100':''", "tickSize": {"condition": {"test": "indexof([0.02,0.2,2,20], datum.value) >= 0", "value": 7}, "value": 4}, "labelFontSize": 22, "titleFontSize": 22, "labelPadding": 3, "titlePadding": 25}},
  "y": {"field": "v", "type": "quantitative", "axis": {"orient": "right", "labels": false, "title": null, "values": [0,0.05,0.1,0.15,0.2,0.25,0.3,0.35,0.4,0.45,0.5,0.55,0.6,0.65,0.7,0.75,0.8,0.85,0.9,0.95,1,1.05,1.1], "tickSize": {"condition": {"test": "abs(datum.value*5-round(datum.value*5))<0.001", "value": 6}, "value": 3}}}}},
{"data": {"values": [{"c": 0.0019, "v": 1.162, "txt": "e"}]},
 "mark": {"type": "text", "align": "center", "baseline": "middle", "fontSize": 26},
 "encoding": {"x": {"field": "c", "type": "quantitative", "axis": null}, "y": {"field": "v", "type": "quantitative", "axis": null}, "text": {"field": "txt"}}}
],
"resolve": {"axis": {"x": "independent", "y": "independent"}}
}
], "spacing": 0}
],
"spacing": 30
}
